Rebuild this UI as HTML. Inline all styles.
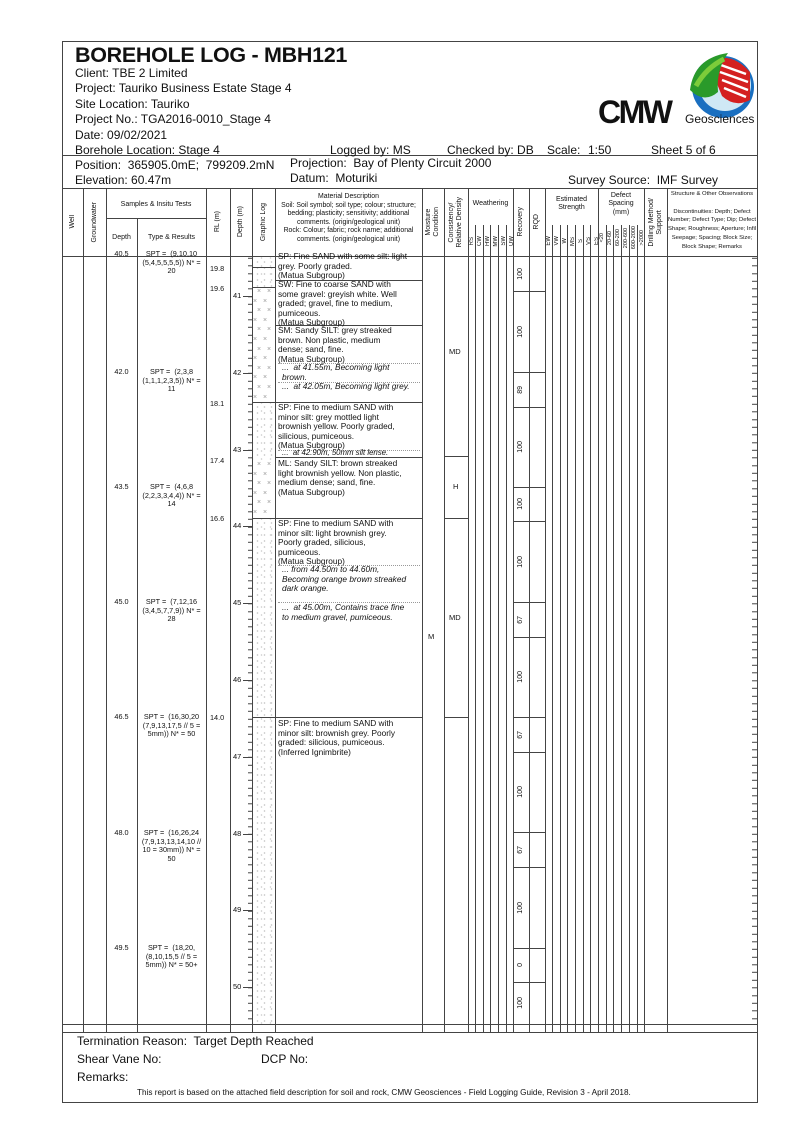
<!DOCTYPE html>
<html><head><meta charset="utf-8">
<style>
*{margin:0;padding:0;box-sizing:border-box}
body{width:807px;height:1140px;background:#fff;position:relative;font-family:"Liberation Sans",Arial,sans-serif;color:#111;overflow:hidden}
.a{position:absolute;white-space:nowrap}
.v{position:absolute;width:1px;background:#444}
.h{position:absolute;height:1px;background:#444}
.hd{font-size:12px;color:#111}
.r{position:absolute;display:flex;align-items:center;justify-content:center}
.r span{writing-mode:vertical-rl;transform:rotate(180deg);font-size:7px;text-align:center;line-height:8px;white-space:nowrap}
.hc{position:absolute;font-size:7px;text-align:center;line-height:8.4px;white-space:nowrap}
.d{position:absolute;left:278px;width:145px;font-size:8.3px;line-height:9.6px;white-space:nowrap}
.i{font-style:italic;padding-left:4px}
.dot{position:absolute;height:0;border-top:1px dotted #999}
.s{position:absolute;font-size:7.3px;line-height:8.5px;text-align:center}
.dots{position:absolute;left:253px;width:22px;background-image:radial-gradient(#aaa 0.6px,transparent 0.9px),radial-gradient(#bbb 0.6px,transparent 0.9px);background-size:7px 6px,9px 8px;background-position:1px 2px,4px 5px}
.xx{position:absolute;left:253px;width:22px;overflow:hidden;font-size:7px;line-height:9.6px;color:#999;letter-spacing:2px;white-space:normal}
</style></head><body>

<!-- frame -->
<div class="h" style="left:62px;top:41px;width:696px"></div>
<div class="h" style="left:62px;top:1102px;width:696px"></div>
<div class="v" style="left:62px;top:41px;height:1062px"></div>
<div class="v" style="left:757px;top:41px;height:1062px"></div>
<div class="h" style="left:62px;top:155px;width:696px"></div>
<div class="h" style="left:62px;top:188px;width:696px"></div>

<div class="a" style="left:75px;top:43px;font-size:21.5px;font-weight:bold;letter-spacing:-0.3px">BOREHOLE LOG - MBH121</div>
<div class="a hd" style="left:75px;top:66px">Client: TBE 2 Limited</div>
<div class="a hd" style="left:75px;top:81px">Project: Tauriko Business Estate Stage 4</div>
<div class="a hd" style="left:75px;top:97px">Site Location: Tauriko</div>
<div class="a hd" style="left:75px;top:112px">Project No.: TGA2016-0010_Stage 4</div>
<div class="a hd" style="left:75px;top:128px">Date: 09/02/2021</div>
<div class="a hd" style="left:75px;top:143px">Borehole Location: Stage 4</div>
<div class="a hd" style="left:330px;top:143px">Logged by: MS</div>
<div class="a hd" style="left:447px;top:143px">Checked by: DB</div>
<div class="a hd" style="left:547px;top:143px">Scale:</div>
<div class="a hd" style="left:588px;top:143px">1:50</div>
<div class="a hd" style="left:651px;top:143px">Sheet 5 of 6</div>
<div class="a hd" style="left:75px;top:158px">Position:&nbsp; 365905.0mE;&nbsp; 799209.2mN</div>
<div class="a hd" style="left:290px;top:156px">Projection:&nbsp; Bay of Plenty Circuit 2000</div>
<div class="a hd" style="left:75px;top:173px">Elevation: 60.47m</div>
<div class="a hd" style="left:290px;top:171px">Datum:&nbsp; Moturiki</div>
<div class="a hd" style="left:568px;top:173px">Survey Source:&nbsp; IMF Survey</div>

<!-- logo -->
<svg class="a" style="left:590px;top:50px" width="166" height="80" viewBox="0 0 166 80">
<circle cx="133" cy="37" r="31" fill="#1a6fc0"/>
<circle cx="135" cy="35" r="26" fill="#cfe8f5"/>
<path d="M118 12 Q140 0 160 22 L160 50 Q145 58 132 46 Z" fill="#d42020"/>
<path d="M128 14 L156 24 M130 22 L158 32 M132 30 L158 40 M134 38 L156 47" stroke="#fff" stroke-width="2.5"/>
<path d="M100 40 Q104 8 138 3 Q126 20 128 42 Q114 54 100 40 Z" fill="#2a9a2a"/>
<path d="M106 36 Q116 18 134 9" stroke="#7ccc3a" stroke-width="5" fill="none"/>
<text x="8" y="73" font-family="Liberation Sans" font-weight="bold" font-size="32" letter-spacing="-2.5" fill="#111">CMW</text>
<text x="95" y="73" font-family="Liberation Sans" font-size="12" fill="#111">Geosciences</text>
</svg>

<!-- table header lines -->
<div class="h" style="left:62px;top:256px;width:696px"></div>
<div class="h" style="left:106px;top:218px;width:100px"></div>
<div class="h" style="left:62px;top:1024px;width:696px"></div>
<div class="h" style="left:62px;top:1032px;width:696px"></div>

<!-- main verticals -->
<div class="v" style="left:83px;top:188px;height:844px"></div>
<div class="v" style="left:106px;top:188px;height:844px"></div>
<div class="v" style="left:137px;top:218px;height:814px"></div>
<div class="v" style="left:206px;top:188px;height:844px"></div>
<div class="v" style="left:230px;top:188px;height:844px"></div>
<div class="v" style="left:252px;top:188px;height:844px"></div>
<div class="v" style="left:275px;top:188px;height:844px"></div>
<div class="v" style="left:422px;top:188px;height:844px"></div>
<div class="v" style="left:444px;top:188px;height:844px"></div>
<div class="v" style="left:468px;top:188px;height:844px"></div>
<div class="v" style="left:513px;top:188px;height:844px"></div>
<div class="v" style="left:529px;top:188px;height:844px"></div>
<div class="v" style="left:545px;top:188px;height:844px"></div>
<div class="v" style="left:598px;top:188px;height:844px"></div>
<div class="v" style="left:644px;top:188px;height:844px"></div>
<div class="v" style="left:667px;top:188px;height:844px"></div>
<!-- sub verticals -->
<div class="v" style="left:475px;top:225px;height:807px"></div>
<div class="v" style="left:483px;top:225px;height:807px"></div>
<div class="v" style="left:490px;top:225px;height:807px"></div>
<div class="v" style="left:498px;top:225px;height:807px"></div>
<div class="v" style="left:506px;top:225px;height:807px"></div>
<div class="v" style="left:552px;top:225px;height:807px"></div>
<div class="v" style="left:560px;top:225px;height:807px"></div>
<div class="v" style="left:567px;top:225px;height:807px"></div>
<div class="v" style="left:575px;top:225px;height:807px"></div>
<div class="v" style="left:583px;top:225px;height:807px"></div>
<div class="v" style="left:590px;top:225px;height:807px"></div>
<div class="v" style="left:606px;top:225px;height:807px"></div>
<div class="v" style="left:613px;top:225px;height:807px"></div>
<div class="v" style="left:621px;top:225px;height:807px"></div>
<div class="v" style="left:629px;top:225px;height:807px"></div>
<div class="v" style="left:637px;top:225px;height:807px"></div>

<!-- header labels -->
<div class="r" style="left:62px;top:188px;width:21px;height:68px"><span>Well</span></div>
<div class="r" style="left:83px;top:188px;width:23px;height:68px"><span>Groundwater</span></div>
<div class="hc" style="left:106px;top:201px;width:100px">Samples &amp; Insitu Tests</div>
<div class="hc" style="left:106px;top:234px;width:31px">Depth</div>
<div class="hc" style="left:137px;top:234px;width:69px">Type &amp; Results</div>
<div class="r" style="left:206px;top:188px;width:24px;height:68px"><span>RL (m)</span></div>
<div class="r" style="left:230px;top:188px;width:22px;height:68px"><span>Depth (m)</span></div>
<div class="r" style="left:252px;top:188px;width:23px;height:68px"><span>Graphic Log</span></div>
<div class="hc" style="left:275px;top:193px;width:147px;font-size:6.9px;line-height:8.5px">Material Description<br>Soil: Soil symbol; soil type; colour; structure;<br>bedding; plasticity; sensitivity; additional<br>comments. (origin/geological unit)<br>Rock: Colour; fabric; rock name; additional<br>comments. (origin/geological unit)</div>
<div class="r" style="left:422px;top:188px;width:22px;height:68px"><span>Moisture<br>Condition</span></div>
<div class="r" style="left:444px;top:188px;width:24px;height:68px"><span>Consistency/<br>Relative Density</span></div>
<div class="hc" style="left:468px;top:200px;width:45px">Weathering</div>
<div class="r" style="left:468px;top:226px;width:45px;height:30px;justify-content:space-around"><span style="font-size:6px">RS</span><span style="font-size:6px">CW</span><span style="font-size:6px">HW</span><span style="font-size:6px">MW</span><span style="font-size:6px">SW</span><span style="font-size:6px">UW</span></div>
<div class="r" style="left:513px;top:188px;width:16px;height:68px"><span>Recovery</span></div>
<div class="r" style="left:529px;top:188px;width:16px;height:68px"><span>RQD</span></div>
<div class="hc" style="left:545px;top:196px;width:53px">Estimated<br>Strength</div>
<div class="r" style="left:545px;top:226px;width:53px;height:30px;justify-content:space-around"><span style="font-size:6px">EW</span><span style="font-size:6px">VW</span><span style="font-size:6px">W</span><span style="font-size:6px">MS</span><span style="font-size:6px">S</span><span style="font-size:6px">VS</span><span style="font-size:6px">ES</span></div>
<div class="hc" style="left:598px;top:192px;width:46px">Defect<br>Spacing<br>(mm)</div>
<div class="r" style="left:598px;top:220px;width:46px;height:36px;justify-content:space-around"><span style="font-size:5.5px">&lt;20</span><span style="font-size:5.5px">20-60</span><span style="font-size:5.5px">60-200</span><span style="font-size:5.5px">200-600</span><span style="font-size:5.5px">600-2000</span><span style="font-size:5.5px">&gt;2000</span></div>
<div class="r" style="left:644px;top:188px;width:23px;height:68px"><span>Drilling Method/<br>Support</span></div>
<div class="hc" style="left:668px;top:190px;width:88px;line-height:8.8px;font-size:5.9px;overflow:hidden">Structure &amp; Other Observations<br><br>Discontinuities: Depth; Defect<br>Number; Defect Type; Dip; Defect<br>Shape; Roughness; Aperture; Infill;<br>Seepage; Spacing; Block Size;<br>Block Shape; Remarks</div>

<!-- graphic log patterns -->
<div class="dots" style="top:257px;height:30px"></div>
<div class="xx" style="top:287px;height:115px">&nbsp;×&nbsp;× ×&nbsp;× &nbsp;×&nbsp;× ×&nbsp;× &nbsp;×&nbsp;× ×&nbsp;× &nbsp;×&nbsp;× ×&nbsp;× &nbsp;×&nbsp;× ×&nbsp;× &nbsp;×&nbsp;× ×&nbsp;× &nbsp;×&nbsp;×</div>
<div class="dots" style="top:402px;height:58px"></div>
<div class="xx" style="top:460px;height:58px">&nbsp;×&nbsp;× ×&nbsp;× &nbsp;×&nbsp;× ×&nbsp;× &nbsp;×&nbsp;× ×&nbsp;× &nbsp;×&nbsp;× ×&nbsp;×</div>
<div class="dots" style="top:518px;height:506px"></div>
<div class="h" style="left:252px;top:267px;width:23px"></div>
<div class="h" style="left:252px;top:287px;width:23px"></div>
<div class="h" style="left:252px;top:402px;width:171px"></div>
<div class="h" style="left:252px;top:518px;width:171px"></div>
<div class="h" style="left:252px;top:717px;width:171px"></div>
<div class="h" style="left:275px;top:280px;width:147px"></div>
<div class="h" style="left:275px;top:325px;width:147px"></div>
<div class="h" style="left:275px;top:457px;width:147px"></div>

<!-- depth ticks -->
<div class="a" style="left:248px;top:257px;width:4px;height:767px;background:repeating-linear-gradient(to bottom,#444 0 1px,transparent 1px 7.68px);background-position:0 0.8px"></div>
<div class="a" style="left:752px;top:257px;width:5px;height:767px;background:repeating-linear-gradient(to bottom,#444 0 1px,transparent 1px 7.68px);background-position:0 0.8px"></div>
<div class="h" style="left:243px;top:296px;width:9px"></div><div class="a" style="left:233px;top:291px;font-size:7.5px">41</div>
<div class="h" style="left:243px;top:373px;width:9px"></div><div class="a" style="left:233px;top:368px;font-size:7.5px">42</div>
<div class="h" style="left:243px;top:450px;width:9px"></div><div class="a" style="left:233px;top:445px;font-size:7.5px">43</div>
<div class="h" style="left:243px;top:526px;width:9px"></div><div class="a" style="left:233px;top:521px;font-size:7.5px">44</div>
<div class="h" style="left:243px;top:603px;width:9px"></div><div class="a" style="left:233px;top:598px;font-size:7.5px">45</div>
<div class="h" style="left:243px;top:680px;width:9px"></div><div class="a" style="left:233px;top:675px;font-size:7.5px">46</div>
<div class="h" style="left:243px;top:757px;width:9px"></div><div class="a" style="left:233px;top:752px;font-size:7.5px">47</div>
<div class="h" style="left:243px;top:834px;width:9px"></div><div class="a" style="left:233px;top:829px;font-size:7.5px">48</div>
<div class="h" style="left:243px;top:910px;width:9px"></div><div class="a" style="left:233px;top:905px;font-size:7.5px">49</div>
<div class="h" style="left:243px;top:987px;width:9px"></div><div class="a" style="left:233px;top:982px;font-size:7.5px">50</div>

<!-- RL -->
<div class="a" style="left:210px;top:264px;font-size:7.3px">19.8</div>
<div class="a" style="left:210px;top:284px;font-size:7.3px">19.6</div>
<div class="a" style="left:210px;top:399px;font-size:7.3px">18.1</div>
<div class="a" style="left:210px;top:456px;font-size:7.3px">17.4</div>
<div class="a" style="left:210px;top:514px;font-size:7.3px">16.6</div>
<div class="a" style="left:210px;top:713px;font-size:7.3px">14.0</div>

<!-- samples -->
<div class="s" style="left:106px;top:250px;width:31px">40.5</div>
<div class="s" style="left:137px;top:250px;width:69px">SPT =&nbsp; (9,10,10<br>(5,4,5,5,5,5)) N* =<br>20</div>
<div class="s" style="left:106px;top:368px;width:31px">42.0</div>
<div class="s" style="left:137px;top:368px;width:69px">SPT =&nbsp; (2,3,8<br>(1,1,1,2,3,5)) N* =<br>11</div>
<div class="s" style="left:106px;top:483px;width:31px">43.5</div>
<div class="s" style="left:137px;top:483px;width:69px">SPT =&nbsp; (4,6,8<br>(2,2,3,3,4,4)) N* =<br>14</div>
<div class="s" style="left:106px;top:598px;width:31px">45.0</div>
<div class="s" style="left:137px;top:598px;width:69px">SPT =&nbsp; (7,12,16<br>(3,4,5,7,7,9)) N* =<br>28</div>
<div class="s" style="left:106px;top:713px;width:31px">46.5</div>
<div class="s" style="left:137px;top:713px;width:69px">SPT =&nbsp; (16,30,20<br>(7,9,13,17,5 // 5 =<br>5mm)) N* = 50</div>
<div class="s" style="left:106px;top:829px;width:31px">48.0</div>
<div class="s" style="left:137px;top:829px;width:69px">SPT =&nbsp; (16,26,24<br>(7,9,13,13,14,10 //<br>10 = 30mm)) N* =<br>50</div>
<div class="s" style="left:106px;top:944px;width:31px">49.5</div>
<div class="s" style="left:137px;top:944px;width:69px">SPT =&nbsp; (18,20,<br>(8,10,15,5 // 5 =<br>5mm)) N* = 50+</div>

<!-- descriptions -->
<div class="d" style="top:252px">SP: Fine SAND with some silt: light<br>grey. Poorly graded.<br>(Matua Subgroup)</div>
<div class="d" style="top:280px">SW: Fine to coarse SAND with<br>some gravel: greyish white. Well<br>graded; gravel, fine to medium,<br>pumiceous.<br>(Matua Subgroup)</div>
<div class="d" style="top:326px">SM: Sandy SILT: grey streaked<br>brown. Non plastic, medium<br>dense; sand, fine.<br>(Matua Subgroup)</div>
<div class="dot" style="left:278px;top:363px;width:142px"></div>
<div class="d i" style="top:363px">...&nbsp; at 41.55m, Becoming light<br>brown.</div>
<div class="dot" style="left:278px;top:382px;width:142px"></div>
<div class="d i" style="top:382px">...&nbsp; at 42.05m, Becoming light grey.</div>
<div class="d" style="top:403px">SP: Fine to medium SAND with<br>minor silt: grey mottled light<br>brownish yellow. Poorly graded,<br>silicious, pumiceous.<br>(Matua Subgroup)</div>
<div class="dot" style="left:278px;top:450px;width:142px"></div>
<div class="d i" style="top:448px;font-size:7.8px">...&nbsp; at 42.90m, 50mm silt lense.</div>
<div class="d" style="top:459px">ML: Sandy SILT: brown streaked<br>light brownish yellow. Non plastic,<br>medium dense; sand, fine.<br>(Matua Subgroup)</div>
<div class="d" style="top:519px">SP: Fine to medium SAND with<br>minor silt: light brownish grey.<br>Poorly graded, silicious,<br>pumiceous.<br>(Matua Subgroup)</div>
<div class="dot" style="left:278px;top:565px;width:142px"></div>
<div class="d i" style="top:565px">... from 44.50m to 44.60m,<br>Becoming orange brown streaked<br>dark orange.</div>
<div class="dot" style="left:278px;top:602px;width:142px"></div>
<div class="d i" style="top:603px">...&nbsp; at 45.00m, Contains trace fine<br>to medium gravel, pumiceous.</div>
<div class="d" style="top:719px">SP: Fine to medium SAND with<br>minor silt: brownish grey. Poorly<br>graded: silicious, pumiceous.<br>(Inferred Ignimbrite)</div>

<!-- moisture/consistency -->
<div class="a" style="left:428px;top:632px;font-size:7.5px">M</div>
<div class="h" style="left:444px;top:456px;width:24px"></div>
<div class="h" style="left:444px;top:518px;width:24px"></div>
<div class="h" style="left:444px;top:717px;width:24px"></div>
<div class="a" style="left:449px;top:347px;font-size:7.5px">MD</div>
<div class="a" style="left:453px;top:482px;font-size:7.5px">H</div>
<div class="a" style="left:449px;top:613px;font-size:7.5px">MD</div>

<!-- recovery boxes -->
<div class="h" style="left:513px;top:291px;width:32px"></div>
<div class="h" style="left:513px;top:372px;width:32px"></div>
<div class="h" style="left:513px;top:407px;width:32px"></div>
<div class="h" style="left:513px;top:487px;width:32px"></div>
<div class="h" style="left:513px;top:521px;width:32px"></div>
<div class="h" style="left:513px;top:602px;width:32px"></div>
<div class="h" style="left:513px;top:637px;width:32px"></div>
<div class="h" style="left:513px;top:717px;width:32px"></div>
<div class="h" style="left:513px;top:752px;width:32px"></div>
<div class="h" style="left:513px;top:832px;width:32px"></div>
<div class="h" style="left:513px;top:867px;width:32px"></div>
<div class="h" style="left:513px;top:948px;width:32px"></div>
<div class="h" style="left:513px;top:982px;width:32px"></div>
<div class="r" style="left:513px;top:256px;width:16px;height:35px"><span>100</span></div>
<div class="r" style="left:513px;top:291px;width:16px;height:81px"><span>100</span></div>
<div class="r" style="left:513px;top:372px;width:16px;height:35px"><span>89</span></div>
<div class="r" style="left:513px;top:407px;width:16px;height:80px"><span>100</span></div>
<div class="r" style="left:513px;top:487px;width:16px;height:34px"><span>100</span></div>
<div class="r" style="left:513px;top:521px;width:16px;height:81px"><span>100</span></div>
<div class="r" style="left:513px;top:602px;width:16px;height:35px"><span>67</span></div>
<div class="r" style="left:513px;top:637px;width:16px;height:80px"><span>100</span></div>
<div class="r" style="left:513px;top:717px;width:16px;height:35px"><span>67</span></div>
<div class="r" style="left:513px;top:752px;width:16px;height:80px"><span>100</span></div>
<div class="r" style="left:513px;top:832px;width:16px;height:35px"><span>67</span></div>
<div class="r" style="left:513px;top:867px;width:16px;height:81px"><span>100</span></div>
<div class="r" style="left:513px;top:948px;width:16px;height:34px"><span>0</span></div>
<div class="r" style="left:513px;top:982px;width:16px;height:42px"><span>100</span></div>

<!-- footer -->
<div class="a hd" style="left:77px;top:1034px">Termination Reason:&nbsp; Target Depth Reached</div>
<div class="a hd" style="left:77px;top:1052px">Shear Vane No:</div>
<div class="a hd" style="left:261px;top:1052px">DCP No:</div>
<div class="a hd" style="left:77px;top:1070px">Remarks:</div>
<div class="a" style="left:137px;top:1088px;font-size:8.2px">This report is based on the attached field description for soil and rock, CMW Geosciences - Field Logging Guide, Revision 3 - April 2018.</div>
</body></html>
